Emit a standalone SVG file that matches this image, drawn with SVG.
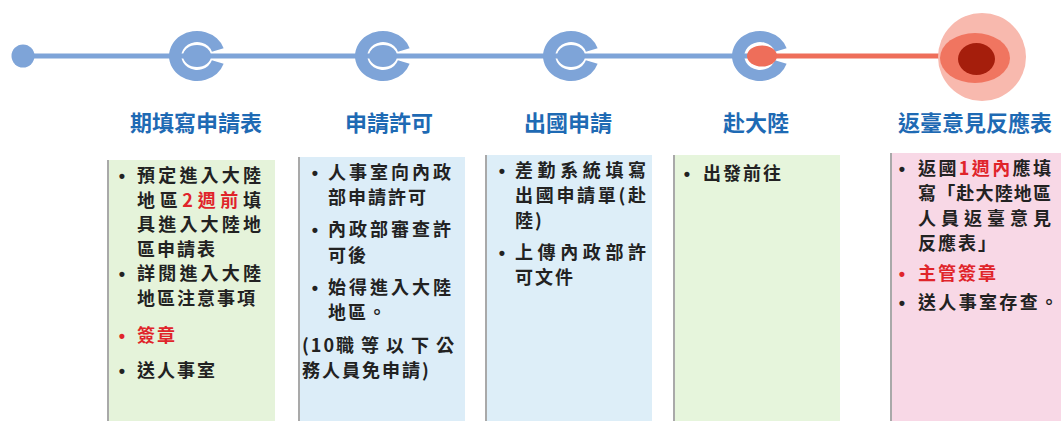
<svg xmlns="http://www.w3.org/2000/svg" xmlns:xlink="http://www.w3.org/1999/xlink" width="1061" height="421" viewBox="0 0 1061 421">
<defs>
<style>
.title{font-family:"Noto Sans CJK TC","Noto Sans CJK SC",sans-serif;font-weight:700;font-size:22px;fill:#1e6ab4;text-anchor:middle}
.t{font-family:"Noto Sans CJK TC","Noto Sans CJK SC",sans-serif;font-weight:700;font-size:18px;fill:#222;letter-spacing:2px}
.b{font-family:"Liberation Sans","Noto Sans CJK TC",sans-serif;font-weight:700;font-size:18px;fill:#222;text-anchor:middle}
.red{fill:#e0242a}
.blue{fill:#7ea4d8}
.shade{stroke:#a9a9a9;stroke-width:2}
</style>
<path id="ring" d="M 23.78 -7.73 A 25 25 0 1 0 23.78 7.73 L 13.31 4.33 A 14 14 0 1 1 13.31 -4.33 Z"/>
</defs>

<g id="connectors">
<line x1="23" y1="56" x2="760" y2="56" stroke="#7ea4d8" stroke-width="5"/>
<line x1="760" y1="56" x2="960" y2="56" stroke="#ee6e5a" stroke-width="5"/>
</g>

<g id="start">
<circle cx="23" cy="56" r="11.5" class="blue"/>
</g>

<g id="node1">
<use xlink:href="#ring" class="blue" transform="translate(197,56) scale(1.12,1)"/>
<ellipse cx="197" cy="56" rx="14" ry="11" class="blue"/>
<text class="title" x="196" y="131">期填寫申請表</text>
<rect x="107" y="160" width="168" height="261" fill="#e5f3da"/>
<line x1="108" y1="160" x2="108" y2="421" class="shade"/>
<text class="b" x="122" y="182">•</text>
<text class="t" x="137" y="182" textLength="126">預定進入大陸</text>
<text class="t" x="137" y="206.5" textLength="126">地區<tspan class="red">2週前</tspan>填</text>
<text class="t" x="137" y="231" textLength="126">具進入大陸地</text>
<text class="t" x="137" y="255.5">區申請表</text>
<text class="b" x="122" y="280">•</text>
<text class="t" x="137" y="280" textLength="126">詳閱進入大陸</text>
<text class="t" x="137" y="304.5">地區注意事項</text>
<text class="b red" x="122" y="342">•</text>
<text class="t red" x="137" y="342">簽章</text>
<text class="b" x="122" y="377">•</text>
<text class="t" x="137" y="377">送人事室</text>
</g>

<g id="node2">
<use xlink:href="#ring" class="blue" transform="translate(383,56) scale(1.12,1)"/>
<ellipse cx="383" cy="56" rx="14" ry="11" class="blue"/>
<text class="title" x="389" y="131">申請許可</text>
<rect x="298" y="157" width="167" height="264" fill="#dcedf8"/>
<line x1="299" y1="157" x2="299" y2="421" class="shade"/>
<text class="b" x="315" y="179">•</text>
<text class="t" x="328" y="179" textLength="125">人事室向內政</text>
<text class="t" x="328" y="204">部申請許可</text>
<text class="b" x="315" y="236">•</text>
<text class="t" x="328" y="236" textLength="125">內政部審查許</text>
<text class="t" x="328" y="262">可後</text>
<text class="b" x="315" y="294">•</text>
<text class="t" x="328" y="294" textLength="125">始得進入大陸</text>
<text class="t" x="328" y="319">地區。</text>
<text class="t" x="302" y="352">(10職<tspan dx="5">等</tspan><tspan dx="5">以</tspan><tspan dx="5">下</tspan><tspan dx="5">公</tspan></text>
<text class="t" x="302" y="377">務人員免申請)</text>
</g>

<g id="node3">
<use xlink:href="#ring" class="blue" transform="translate(571,56) scale(1.12,1)"/>
<ellipse cx="571" cy="56" rx="14" ry="11" class="blue"/>
<text class="title" x="568" y="131">出國申請</text>
<rect x="485" y="155" width="167" height="266" fill="#ddeef8"/>
<line x1="486" y1="155" x2="486" y2="421" class="shade"/>
<text class="b" x="502" y="177">•</text>
<text class="t" x="515" y="177" textLength="133">差勤系統填寫</text>
<text class="t" x="515" y="202" textLength="133">出國申請單(赴</text>
<text class="t" x="515" y="227">陸)</text>
<text class="b" x="502" y="259">•</text>
<text class="t" x="515" y="259" textLength="133">上傳內政部許</text>
<text class="t" x="515" y="284">可文件</text>
</g>

<g id="node4">
<use xlink:href="#ring" class="blue" transform="translate(760,56) scale(1.12,1)"/>
<ellipse cx="762" cy="56" rx="15" ry="10.5" fill="#ee6e5a"/>
<text class="title" x="756" y="131">赴大陸</text>
<rect x="673" y="155" width="167" height="266" fill="#e6f5dc"/>
<line x1="674" y1="155" x2="674" y2="421" class="shade"/>
<text class="b" x="687" y="180">•</text>
<text class="t" x="703" y="180">出發前往</text>
</g>

<g id="node5">
<circle cx="982" cy="57" r="44" fill="#f8b9ae"/>
<ellipse cx="975" cy="58" rx="35" ry="25" fill="#f07560"/>
<ellipse cx="976.5" cy="59" rx="18.5" ry="16" fill="#a51e0c"/>
<text class="title" x="975" y="131">返臺意見反應表</text>
<rect x="890" y="153" width="171" height="268" fill="#f8d8e6"/>
<line x1="891" y1="153" x2="891" y2="421" class="shade"/>
<text class="b" x="902" y="175">•</text>
<text class="t" x="918" y="175" textLength="135">返國<tspan class="red">1週內</tspan>應填</text>
<text class="t" x="918" y="200" textLength="135">寫「赴大陸地區</text>
<text class="t" x="918" y="225" textLength="135">人員返臺意見</text>
<text class="t" x="918" y="250">反應表」</text>
<text class="b red" x="902" y="280">•</text>
<text class="t red" x="918" y="280">主管簽章</text>
<text class="b" x="902" y="309">•</text>
<text class="t" x="918" y="309" textLength="142">送人事室存查。</text>
</g>
</svg>
